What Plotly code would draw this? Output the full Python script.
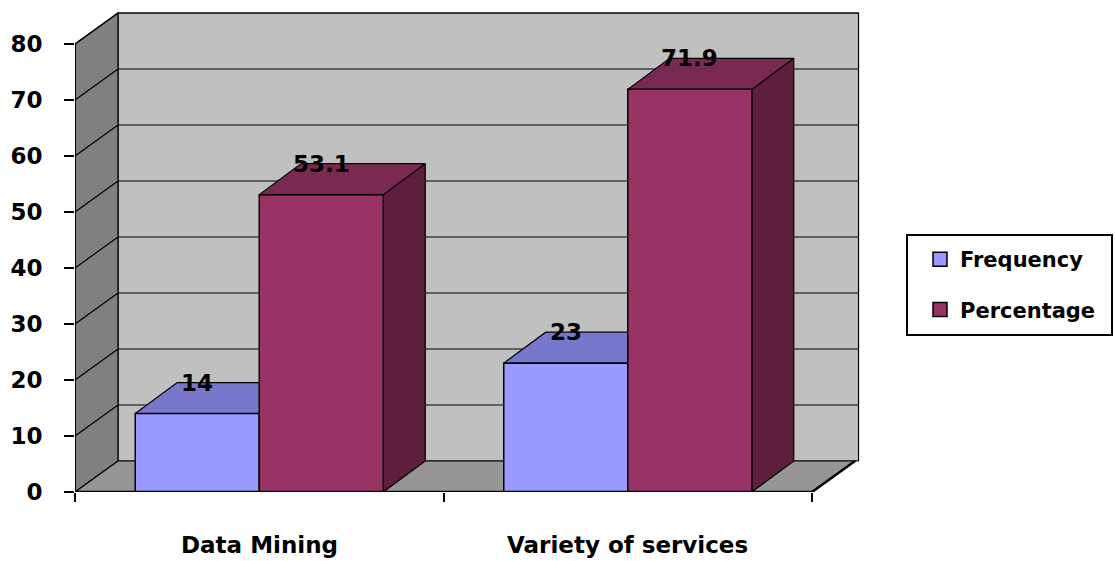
import plotly.graph_objects as go

categories = ["Data Mining", "Variety of services"]
series_names = ["Frequency", "Percentage"]
frequency = [14, 23]
percentage = [53.1, 71.9]
y_ticks = [0, 10, 20, 30, 40, 50, 60, 70, 80]

front_colors = ["#9999FF", "#993366"]
top_colors = ["#7777CC", "#7A2952"]
side_colors = ["#5C5C99", "#5E1F3E"]

FONT = "DejaVu Sans"
PX_PER_X = 368.5          # pixels per category unit
PX_PER_Y = 5.6            # pixels per value unit
DXW = 43 / PX_PER_X       # wall depth (x)
DXB = 42 / PX_PER_X       # bar depth (x)
DY = 31 / PX_PER_Y        # depth (y)
BW = 124 / PX_PER_X       # bar width
YMAX_T = y_ticks[-1]

L, R, T, B = 75, 255, 10, 69
W, H = 1115, 561
xmax = (W - L - R) / PX_PER_X
ymax = (H - T - B) / PX_PER_Y

fig = go.Figure()
shapes = []

def poly(xs, ys, fill, width=1.2, color="black"):
    path = "M " + " L ".join(f"{x},{y}" for x, y in zip(xs, ys)) + " Z"
    return dict(type="path", path=path, xref="x", yref="y", fillcolor=fill,
                line=dict(color=color, width=width), layer="below")

ncat = len(categories)
# walls and floor
shapes.append(poly([DXW, xmax - 0.004, xmax - 0.004, DXW], [DY, DY, YMAX_T + DY, YMAX_T + DY], "#C0C0C0"))
shapes.append(poly([0, 0, DXW, DXW], [0, YMAX_T, YMAX_T + DY, DY], "#808080"))
shapes.append(poly([0, ncat, ncat + DXW, DXW], [0, 0, DY, DY], "#969696"))
for v in y_ticks[1:]:
    shapes.append(dict(type="line", xref="x", yref="y", x0=0, y0=v, x1=DXW, y1=v + DY,
                       line=dict(color="black", width=1.2), layer="below"))
    shapes.append(dict(type="line", xref="x", yref="y", x0=DXW, y0=v + DY, x1=xmax - 0.004, y1=v + DY,
                       line=dict(color="black", width=1.2), layer="below"))
# axes lines
shapes.append(dict(type="line", xref="x", yref="y", x0=0, y0=0, x1=0, y1=YMAX_T,
                   line=dict(color="black", width=2)))
shapes.append(dict(type="line", xref="x", yref="y", x0=0, y0=0, x1=ncat, y1=0,
                   line=dict(color="black", width=2.5)))
shapes.append(dict(type="line", xref="x", yref="y", x0=ncat, y0=0, x1=ncat + DXW, y1=DY,
                   line=dict(color="black", width=2.5)))

# bars
all_series = [frequency, percentage]
for i, cat in enumerate(categories):
    c = i + 0.5
    for k, vals in enumerate(all_series):
        v = vals[i]
        x0 = c - BW + k * BW
        x1 = x0 + BW
        # side
        fig.add_trace(go.Scatter(x=[x1, x1, x1 + DXB, x1 + DXB, x1], y=[0, v, v + DY, DY, 0],
                                 mode="lines", fill="toself", fillcolor=side_colors[k],
                                 line=dict(color="black", width=1.2), showlegend=False, hoverinfo="skip"))
        # top
        fig.add_trace(go.Scatter(x=[x0, x1, x1 + DXB, x0 + DXB, x0], y=[v, v, v + DY, v + DY, v],
                                 mode="lines", fill="toself", fillcolor=top_colors[k],
                                 line=dict(color="black", width=1.2), showlegend=False, hoverinfo="skip"))
        # front
        fig.add_trace(go.Scatter(x=[x0, x1, x1, x0, x0], y=[0, 0, v, v, 0],
                                 mode="lines", fill="toself", fillcolor=front_colors[k],
                                 line=dict(color="black", width=1.5), showlegend=False,
                                 name=series_names[k]))
        fig.add_annotation(x=x0 + BW / 2, y=v + DY, text=str(v), showarrow=False,
                           xanchor="center", yanchor="middle",
                           font=dict(family=FONT, size=23, color="black", weight="bold"))

# legend entries
for k, name in enumerate(series_names):
    fig.add_trace(go.Scatter(x=[None], y=[None], mode="markers", name=name,
                             legendgroup=name,
                             marker=dict(symbol="square", size=14, color=front_colors[k],
                                         line=dict(color="black", width=1.5))))

for i, cat in enumerate(categories):
    fig.add_annotation(x=i + 0.5, y=0, yshift=-53, text=cat, showarrow=False,
                       xanchor="center", yanchor="middle",
                       font=dict(family=FONT, size=23, color="black", weight="bold"))

# legend box
pw = W - L - R
ph = H - T - B
def px_to_paper_x(px):
    return (px - L) / pw
def px_to_paper_y(py):
    return (H - B - py) / ph
shapes.append(dict(type="rect", xref="paper", yref="paper",
                   x0=px_to_paper_x(907), x1=px_to_paper_x(1112),
                   y0=px_to_paper_y(335), y1=px_to_paper_y(235),
                   line=dict(color="black", width=2), fillcolor="white", layer="below"))

fig.update_layout(
    width=W, height=H,
    margin=dict(l=L, r=R, t=T, b=B),
    paper_bgcolor="white", plot_bgcolor="white",
    shapes=shapes,
    showlegend=True,
    legend=dict(x=px_to_paper_x(920), y=px_to_paper_y(239), xanchor="left", yanchor="top",
                bgcolor="rgba(0,0,0,0)", borderwidth=0, tracegroupgap=20,
                font=dict(family=FONT, size=21, color="black", weight="bold")),
    xaxis=dict(range=[0, xmax], showgrid=False, zeroline=False, showline=False,
               tickvals=[0, 1, 2], ticks="outside", ticklen=9, tickwidth=2, tickcolor="black",
               showticklabels=False, fixedrange=True),
    yaxis=dict(range=[0, ymax], showgrid=False, zeroline=False, showline=False,
               tickvals=y_ticks, ticks="outside", ticklen=10, tickwidth=2, tickcolor="black",
               ticklabelstandoff=17,
               tickfont=dict(family=FONT, size=23, color="black", weight="bold"), fixedrange=True),
)

fig.write_html("out.html")
